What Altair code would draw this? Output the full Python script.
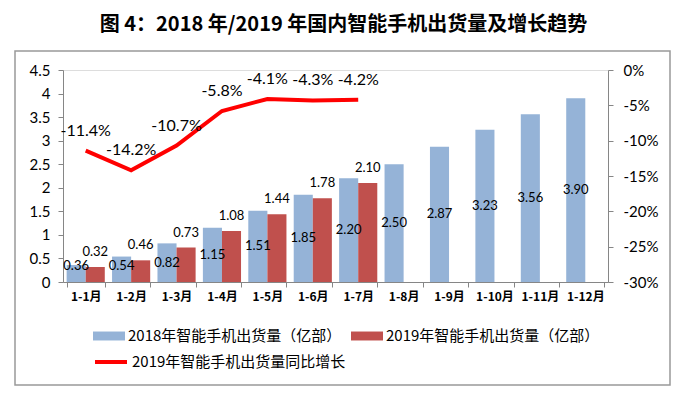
import altair as alt
import pandas as pd

months = ["1-1月", "1-2月", "1-3月", "1-4月", "1-5月", "1-6月",
          "1-7月", "1-8月", "1-9月", "1-10月", "1-11月", "1-12月"]
ship2018 = [0.36, 0.54, 0.82, 1.15, 1.51, 1.85, 2.20, 2.50, 2.87, 3.23, 3.56, 3.90]
ship2019 = [0.32, 0.46, 0.73, 1.08, 1.44, 1.78, 2.10]
growth2019 = [-11.4, -14.2, -10.7, -5.8, -4.1, -4.3, -4.2]
left_ticks = [0, 0.5, 1, 1.5, 2, 2.5, 3, 3.5, 4, 4.5]
right_ticks = [-30, -25, -20, -15, -10, -5, 0]

s18 = "2018年智能手机出货量（亿部）"
s19 = "2019年智能手机出货量（亿部）"
sg = "2019年智能手机出货量同比增长"
title = "图 4：2018 年/2019 年国内智能手机出货量及增长趋势"

BLUE = "#95B3D7"
RED_BAR = "#C0504D"
RED_LINE = "#FF0000"
CJK = "Noto Sans CJK SC"
NUM = "Lato"

rows = [{"month": m, "series": s18, "value": v} for m, v in zip(months, ship2018)]
rows += [{"month": m, "series": s19, "value": v} for m, v in zip(months, ship2019)]
bars_df = pd.DataFrame(rows)
line_df = pd.DataFrame({"month": months[:len(growth2019)], "g": growth2019, "name": sg})

x_axis = alt.Axis(title=None, labelAngle=0, tickBand="extent",
                  labelFont=CJK, labelFontSize=12, labelFontWeight="bold",
                  labelColor="#000", domainColor="#868686",
                  tickColor="#868686", tickSize=5, labelPadding=4)
x_scale = alt.Scale(paddingInner=0.16, paddingOuter=0.08)
x_enc = alt.X("month:N", sort=months, scale=x_scale, axis=x_axis)
xoff = alt.XOffset("series:N", sort=[s18, s19],
                   scale=alt.Scale(domain=[s18, s19], paddingInner=0, paddingOuter=0))
y_left = alt.Scale(domain=[0, 4.5], nice=False, zero=True)
y_left_axis = alt.Axis(title=None, values=left_ticks, grid=False, labelFont=NUM,
                       labelFontSize=15, labelColor="#000", domainColor="#868686",
                       tickColor="#868686", tickSize=5, labelPadding=8,
                       labelOverlap=False, labelExpr="'' + datum.value")

base = alt.Chart(bars_df)
bars = base.mark_bar().encode(
    x=x_enc,
    xOffset=xoff,
    y=alt.Y("value:Q", scale=y_left, axis=y_left_axis),
    fill=alt.Fill("series:N", scale=alt.Scale(domain=[s18, s19], range=[BLUE, RED_BAR]),
                  legend=alt.Legend(title=None, orient="none", legendX=30, legendY=250,
                                    direction="horizontal",
                                    symbolType="M-1,-0.28H1V0.28H-1Z", symbolSize=1024,
                                    symbolStrokeWidth=0, labelFont=CJK, labelFontSize=15,
                                    labelColor="#000", labelLimit=400, labelOffset=3,
                                    columnPadding=9, padding=0)),
)

t18 = base.transform_filter(alt.datum.series == s18).transform_calculate(
    mid="max(datum.value / 2, 0.34)"
).mark_text(font=NUM, fontSize=13, color="#000", baseline="middle").encode(
    x=x_enc,
    xOffset=xoff,
    y=alt.Y("mid:Q", scale=y_left, axis=y_left_axis),
    text=alt.Text("value:Q", format=".2f"),
)
t19 = base.transform_filter(alt.datum.series == s19).mark_text(
    font=NUM, fontSize=13, color="#000", baseline="middle", dy=-15
).encode(
    x=x_enc,
    xOffset=xoff,
    y=alt.Y("value:Q", scale=y_left, axis=y_left_axis),
    text=alt.Text("value:Q", format=".2f"),
)

left = alt.layer(bars, t18, t19)

y_right = alt.Scale(domain=[-30, 0], nice=False, zero=False)
y_right_axis = alt.Axis(title=None, orient="right", values=right_ticks,
                        labelExpr="datum.value + '%'", grid=False, labelFont=NUM,
                        labelFontSize=15, labelColor="#000", domainColor="#868686",
                        tickColor="#868686", tickSize=5, labelPadding=10,
                        labelOverlap=False)
lbase = alt.Chart(line_df)
line = lbase.mark_line(strokeWidth=4).encode(
    x=x_enc,
    y=alt.Y("g:Q", scale=y_right, axis=y_right_axis),
    stroke=alt.Stroke("name:N", scale=alt.Scale(domain=[sg], range=[RED_LINE]),
                      legend=alt.Legend(title=None, orient="none", legendX=30, legendY=274,
                                        symbolType="stroke", symbolSize=1024,
                                        symbolStrokeWidth=4, labelFont=CJK,
                                        labelFontSize=15, labelColor="#000",
                                        labelLimit=400, labelOffset=3, padding=0)),
)
ltext = lbase.transform_calculate(lab="datum.g + '%'").mark_text(
    font=NUM, fontSize=16, color="#000", baseline="middle", dy=-20
).encode(
    x=x_enc,
    y=alt.Y("g:Q", scale=y_right, axis=y_right_axis),
    text="lab:N",
)
right = alt.layer(line, ltext)

frame = alt.Chart(pd.DataFrame({"a": [0]})).mark_rect(
    fill=None, stroke="#999999", strokeWidth=1.5
).encode(x=alt.value(-48), x2=alt.value(607), y=alt.value(-19), y2=alt.value(315))

chart = alt.layer(frame, left, right).resolve_scale(y="independent").properties(
    width=545, height=212,
    autosize=alt.AutoSizeParams(type="none"),
    padding={"left": 55, "top": 62, "right": 68, "bottom": 105},
    title=alt.TitleParams(title, anchor="middle", frame="group", dx=8, offset=15,
                          font=CJK, fontSize=20, fontWeight="bold", color="#000"),
).configure_view(stroke=None).configure(background="white")

chart.save("out.html", embed_options={"renderer": "svg", "actions": False})
